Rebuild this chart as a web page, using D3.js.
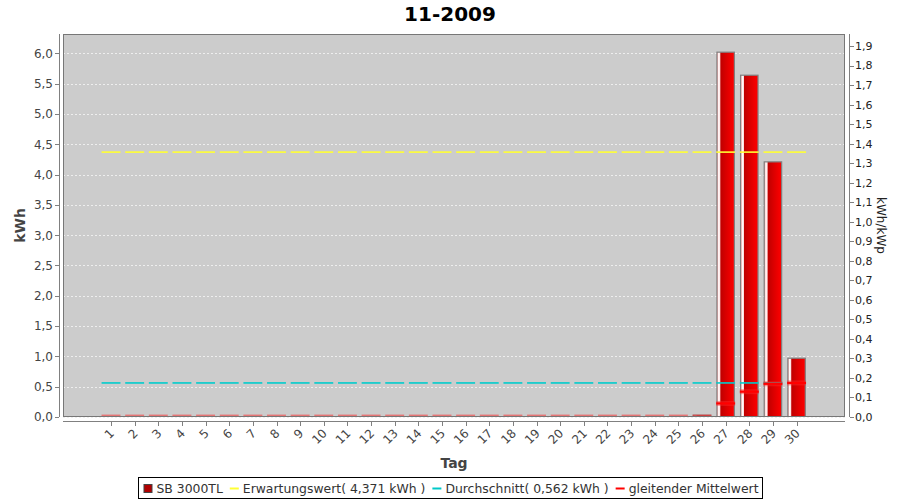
<!DOCTYPE html>
<html><head><meta charset="utf-8">
<script src="https://cdn.jsdelivr.net/npm/d3@7"></script>
<style>body{margin:0;background:#fff}svg{display:block}text{font-family:"DejaVu Sans",sans-serif}</style>
</head><body>
<svg id="c" width="900" height="500"></svg>
<script>
const title = "11-2009";
const days = d3.range(1, 31).map(String);
const energy = [0,0,0,0,0,0,0,0,0,0,0,0,0,0,0,0,0,0,0,0,0,0,0,0,0,0.03,6.02,5.64,4.21,0.97];
const movingAvg = [0,0,0,0,0,0,0,0,0,0,0,0,0,0,0,0,0,0,0,0,0,0,0,0,0,0.001,0.224,0.418,0.548,0.562];
const expected = 4.371;
const average = 0.562;
const leftTicks = [0,0.5,1,1.5,2,2.5,3,3.5,4,4.5,5,5.5,6];
const rightTicks = [0,0.1,0.2,0.3,0.4,0.5,0.6,0.7,0.8,0.9,1.0,1.1,1.2,1.3,1.4,1.5,1.6,1.7,1.8,1.9];
const legendItems = ["SB 3000TL","Erwartungswert( 4,371 kWh )","Durchschnitt( 0,562 kWh )","gleitender Mittelwert"];
const legendColors = ["#b00000","#ffff33","#00c8c8","#ff0000"];

const svg = d3.select("#c");
const P = {l:63, r:845, t:34, b:417};
const fmt = v => d3.format(".1f")(v).replace(".", ",");

const yL = d3.scaleLinear().domain([0, 6.32]).range([P.b, P.t]);
const yR = d3.scaleLinear().domain([0, 6.32/3.222]).range([P.b, P.t]);
const x = d3.scaleBand().domain(days).range([99.2, 808.4]).paddingInner(0.22).paddingOuter(0.11);
const cx = d => x(d) + x.bandwidth()/2;
const step = x.step();

const defs = svg.append("defs");
const g = defs.append("linearGradient").attr("id","barg").attr("x1","0").attr("x2","1").attr("y1","0").attr("y2","0");
[[0,"#ff9090"],[0.1,"#ffffff"],[0.17,"#ffe0e0"],[0.22,"#c00000"],[0.5,"#d80000"],[1,"#ff0000"]].forEach(s=>g.append("stop").attr("offset",s[0]).attr("stop-color",s[1]));
defs.append("clipPath").attr("id","clip").append("rect").attr("x",P.l).attr("y",P.t).attr("width",P.r-P.l).attr("height",P.b-P.t);

// plot background
svg.append("rect").attr("x",P.l).attr("y",P.t).attr("width",P.r-P.l).attr("height",P.b-P.t).attr("fill","#cccccc");
// grid
svg.append("g").selectAll("line").data(leftTicks).join("line")
  .attr("x1",P.l).attr("x2",P.r).attr("y1",d=>Math.round(yL(d))+0.5).attr("y2",d=>Math.round(yL(d))+0.5)
  .attr("stroke","#eeeeee").attr("stroke-dasharray","2,2").attr("stroke-width",1);

const plot = svg.append("g").attr("clip-path","url(#clip)");
// bars
plot.selectAll("rect.bar").data(days).join("rect").attr("class","bar")
  .attr("x",d=>x(d)+0.5).attr("width",x.bandwidth()-1)
  .attr("y",(d,i)=>yL(energy[i])).attr("height",(d,i)=>P.b-yL(energy[i]))
  .attr("fill","url(#barg)").attr("stroke","#808080").attr("stroke-width",1.2);

const segW = step*0.8;
function segs(cls, vals, color, w){
  plot.selectAll("line."+cls).data(days).join("line").attr("class",cls)
    .attr("x1",d=>cx(d)-segW/2).attr("x2",d=>cx(d)+segW/2)
    .attr("y1",(d,i)=>yL(vals[i])).attr("y2",(d,i)=>yL(vals[i]))
    .attr("stroke",color).attr("stroke-width",w);
}
segs("exp", days.map(()=>expected), "#ffff33", 1.6);
segs("avg", days.map(()=>average), "#00cccc", 1.6);
segs("mavg-glow", movingAvg, "rgba(255,40,40,0.45)", 5);
segs("mavg", movingAvg, "#ff0000", 2.2);

// frame
svg.append("rect").attr("x",P.l+0.5).attr("y",P.t+0.5).attr("width",P.r-P.l-1).attr("height",P.b-P.t-1)
  .attr("fill","none").attr("stroke","#777777");

// left axis
const la = svg.append("g");
la.append("line").attr("x1",59.5).attr("x2",59.5).attr("y1",P.t).attr("y2",P.b).attr("stroke","#808080");
la.selectAll("line.t").data(leftTicks).join("line").attr("class","t")
  .attr("x1",55).attr("x2",59).attr("y1",d=>Math.round(yL(d))+0.5).attr("y2",d=>Math.round(yL(d))+0.5).attr("stroke","#808080");
la.selectAll("text").data(leftTicks).join("text")
  .attr("x",53).attr("y",d=>yL(d)).attr("dy","0.36em").attr("text-anchor","end")
  .attr("font-size",12).attr("fill","#444").text(fmt);
svg.append("text").attr("transform",`translate(25,${(P.t+P.b)/2}) rotate(-90)`).attr("text-anchor","middle")
  .attr("font-size",14).attr("font-weight","bold").attr("fill","#444").text("kWh");

// right axis
const ra = svg.append("g");
ra.append("line").attr("x1",849.5).attr("x2",849.5).attr("y1",P.t).attr("y2",P.b).attr("stroke","#808080");
ra.selectAll("line.t").data(rightTicks).join("line").attr("class","t")
  .attr("x1",850).attr("x2",854).attr("y1",d=>Math.round(yR(d))+0.5).attr("y2",d=>Math.round(yR(d))+0.5).attr("stroke","#808080");
ra.selectAll("text").data(rightTicks).join("text")
  .attr("x",855).attr("y",d=>yR(d)).attr("dy","0.36em").attr("text-anchor","start")
  .attr("font-size",11).attr("fill","#222").text(fmt);
svg.append("text").attr("transform",`translate(877,${(P.t+P.b)/2}) rotate(90)`).attr("text-anchor","middle")
  .attr("font-size",12).attr("fill","#222").text("kWh/kWp");

// x axis
const xa = svg.append("g");
xa.append("line").attr("x1",P.l).attr("x2",P.r).attr("y1",421.5).attr("y2",421.5).attr("stroke","#808080");
xa.selectAll("line.t").data(days).join("line").attr("class","t")
  .attr("x1",d=>Math.round(cx(d))+0.5).attr("x2",d=>Math.round(cx(d))+0.5).attr("y1",422).attr("y2",426).attr("stroke","#808080");
xa.selectAll("text").data(days).join("text")
  .attr("transform",d=>`translate(${cx(d)+4},434) rotate(-45)`).attr("text-anchor","end")
  .attr("font-size",12).attr("fill","#444").text(d=>d);
svg.append("text").attr("x",(P.l+P.r)/2).attr("y",468).attr("text-anchor","middle")
  .attr("font-size",14).attr("font-weight","bold").attr("fill","#444").text("Tag");

// title
svg.append("text").attr("x",450).attr("y",20.5).attr("text-anchor","middle")
  .attr("font-size",20).attr("font-weight","bold").attr("fill","#000").text(title);

// legend
const lg = svg.append("g");
const box = lg.append("rect").attr("y",477.5).attr("height",21).attr("fill","#fff").attr("stroke","#000");
let cur = 0;
legendItems.forEach((t,i)=>{
  const it = lg.append("g");
  if(i===0){
    it.append("rect").attr("x",cur+0.5).attr("y",-3.5).attr("width",8).attr("height",8).attr("fill",legendColors[i]).attr("stroke","#444");
  } else {
    it.append("line").attr("x1",cur).attr("x2",cur+9).attr("y1",0.5).attr("y2",0.5).attr("stroke",legendColors[i]).attr("stroke-width",2);
  }
  const tx = it.append("text").attr("x",cur+13).attr("y",0).attr("dy","0.38em").attr("font-size",12.4).attr("fill","#333").text(t);
  cur += 13 + tx.node().getComputedTextLength() + 7;
});
const totalW = cur - 7;
const lx = 450 - totalW/2 + 1;
lg.selectAll("g").attr("transform",`translate(${lx},488)`);
box.attr("x", Math.round(lx - 5)+0.5).attr("width", Math.round(totalW + 9));
</script>
</body></html>
